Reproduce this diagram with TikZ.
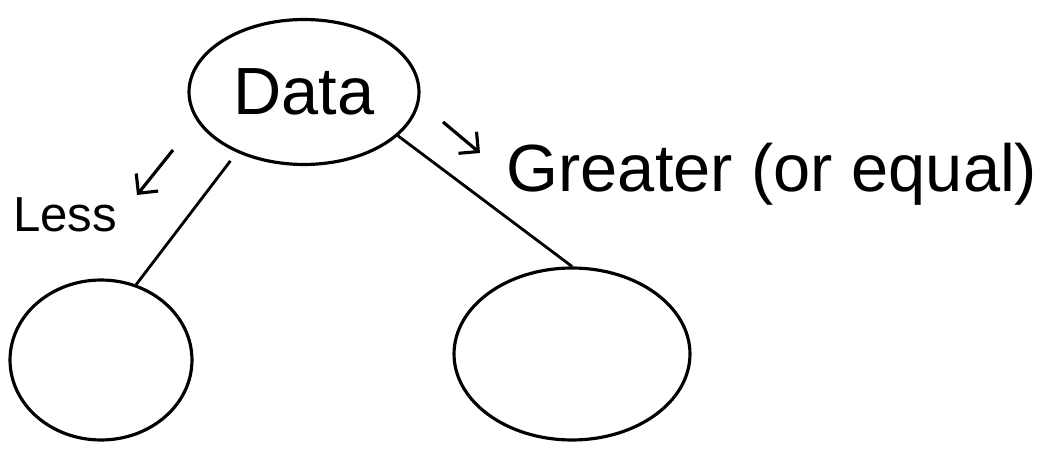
\documentclass[tikz,border=0pt]{standalone}
\usepackage{fontspec}
\setmainfont{Liberation Sans}
\usetikzlibrary{shapes.geometric,arrows.meta}
\begin{document}
\begin{tikzpicture}[x=0.02cm,y=-0.02cm]
        \tikzstyle{treenode}=[ellipse,draw=black,line width=1.8pt,inner sep=0pt]
        \tikzstyle{edge}=[draw,line width=1.6pt]
        \tikzstyle{hint}=[draw,line width=1.8pt,-{Straight Barb[length=8pt,width=16pt]}]
        \tikzstyle{sidetext}=[inner sep=0pt,anchor=base]
        \useasboundingbox (0,0) rectangle (1050,452);
       \begin{scope}
         \node [treenode,minimum width=4.6cm,minimum height=2.9cm,font=\fontsize{38}{40}\selectfont] (data) at (304,92) {Data};
         \node [treenode,minimum width=3.64cm,minimum height=3.2cm] (lchild) at (101,360) {};
         \node [treenode,minimum width=4.72cm,minimum height=3.44cm] (rchild) at (572,354) {};
         \path[edge,shorten <=6pt] (data.-138) edge (lchild.65);
         \path[edge] (data.-25) edge (rchild.north);
         % side labels with their little arrows
         \node [sidetext,font=\fontsize{28}{30}\selectfont] (less) at (65,232) {Less};
         \node [sidetext,font=\fontsize{38}{40}\selectfont] (greater) at (772,192) {Greater (or equal)};
         \coordinate (lesstail) at (173,150);
         \coordinate (lesshead) at (137,195);
         \coordinate (greatertail) at (443,122);
         \coordinate (greaterhead) at (480,153);
         \path[hint] (lesstail) -- (lesshead);
         \path[hint] (greatertail) -- (greaterhead);
        \end{scope}
      \end{tikzpicture}
\end{document}
